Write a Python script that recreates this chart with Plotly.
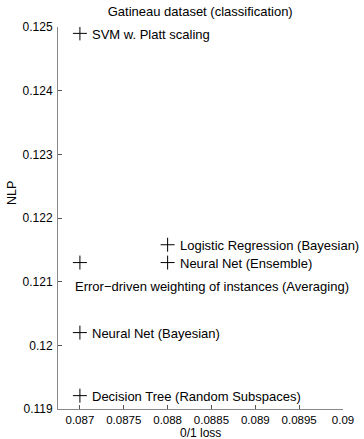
import plotly.graph_objects as go

methods = ["SVM w. Platt scaling", "Logistic Regression (Bayesian)", "Neural Net (Ensemble)",
           "Error\u2212driven weighting of instances (Averaging)", "Neural Net (Bayesian)",
           "Decision Tree (Random Subspaces)"]
loss01 = [0.0870, 0.0880, 0.0880, 0.0870, 0.0870, 0.0870]
nlp = [0.12490, 0.12158, 0.12130, 0.12130, 0.12020, 0.11921]
x_ticks = [0.087, 0.0875, 0.088, 0.0885, 0.089, 0.0895, 0.09]
x_tick_text = ["0.087", "0.0875", "0.088", "0.0885", "0.089", "0.0895", "0.09"]
y_ticks = [0.119, 0.12, 0.121, 0.122, 0.123, 0.124, 0.125]
y_tick_text = ["0.119", "0.12", "0.121", "0.122", "0.123", "0.124", "0.125"]

FONT = "Liberation Sans, Arial, Helvetica, sans-serif"

fig = go.Figure()
fig.add_trace(go.Scatter(
    x=loss01, y=nlp, mode="markers",
    marker=dict(symbol="cross-thin", size=10, line=dict(color="black", width=1)),
    showlegend=False, hoverinfo="skip"))

for m, xv, yv in zip(methods, loss01, nlp):
    if m.startswith("Error"):
        fig.add_annotation(x=xv, y=yv, text=m, showarrow=False, xanchor="left",
                           yanchor="middle", xshift=-7, yshift=-24,
                           font=dict(family=FONT, size=13, color="black"))
    else:
        fig.add_annotation(x=xv, y=yv, text=m, showarrow=False, xanchor="left",
                           yanchor="middle", xshift=10, yshift=-1,
                           font=dict(family=FONT, size=13, color="black"))

# axis titles
fig.add_annotation(xref="paper", yref="paper", x=0.5, y=0, text="0/1 loss",
                   showarrow=False, xanchor="center", yanchor="middle", yshift=-24,
                   borderpad=0,
                   font=dict(family=FONT, size=12, color="black"))
fig.add_annotation(xref="paper", yref="paper", x=0, y=0.5, text="NLP", textangle=-90,
                   showarrow=False, xanchor="center", yanchor="middle", xshift=-46, yshift=25,
                   font=dict(family=FONT, size=12.5, color="black"))

fig.update_layout(
    width=364, height=439,
    margin=dict(l=58, r=21, t=27, b=30, autoexpand=False),
    paper_bgcolor="white", plot_bgcolor="white",
    font=dict(family=FONT, size=11, color="black"),
    title=dict(text="Gatineau dataset (classification)", x=0.55, xanchor="center",
               y=0.973, yanchor="middle", font=dict(family=FONT, size=13, color="black")),
    xaxis=dict(range=[0.08675, 0.09], tickvals=x_ticks, ticktext=x_tick_text,
               ticks="inside", ticklen=4, tickcolor="#555", showline=True,
               linecolor="#888", linewidth=1, showgrid=False, zeroline=False,
               ticklabelstandoff=0, automargin=False,
               tickfont=dict(family=FONT, size=11.5)),
    yaxis=dict(range=[0.119, 0.125], tickvals=y_ticks, ticktext=y_tick_text,
               ticks="inside", ticklen=4, tickcolor="#555", showline=True,
               linecolor="#888", linewidth=1, showgrid=False, zeroline=False,
               ticklabelstandoff=2, automargin=False,
               tickfont=dict(family=FONT, size=12)),
)

fig.write_html("out.html")
